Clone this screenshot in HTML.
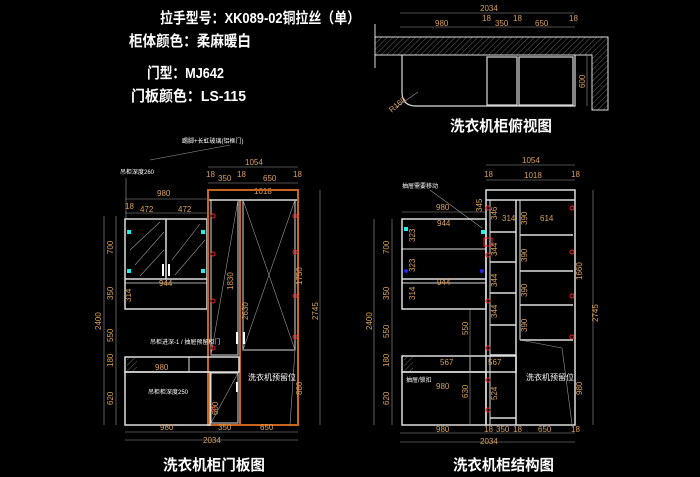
<!DOCTYPE html>
<html><head><meta charset="utf-8"><style>
html,body{margin:0;padding:0;background:#000;}
svg{display:block}
text{font-family:"Liberation Sans","Noto Sans CJK SC",sans-serif;}
.t{fill:#fff;font-weight:bold;font-size:15px}
.d{fill:#d9a05b;font-size:8px}
.w{stroke:#ddd;stroke-width:1.5;fill:none}
.g{stroke:#999;stroke-width:0.6;fill:none}
.o{stroke:#c8641e;stroke-width:2;fill:none}
</style></head><body>
<svg width="700" height="477" viewBox="0 0 700 477" xmlns="http://www.w3.org/2000/svg">
<defs><pattern id="h" width="4" height="4" patternUnits="userSpaceOnUse" patternTransform="rotate(45)"><line x1="0" y1="0" x2="0" y2="4" stroke="#aaa" stroke-width="0.6"/></pattern></defs>
<rect width="700" height="477" fill="#000"/>
<!-- header text -->
<text class="t" x="160" y="23" textLength="200" lengthAdjust="spacingAndGlyphs">拉手型号：XK089-02铜拉丝（单）</text>
<text class="t" x="129" y="46" textLength="122" lengthAdjust="spacingAndGlyphs">柜体颜色：柔麻暖白</text>
<text class="t" x="147" y="78" textLength="77" lengthAdjust="spacingAndGlyphs">门型：MJ642</text>
<text class="t" x="131" y="101" textLength="115" lengthAdjust="spacingAndGlyphs">门板颜色：LS-115</text>

<!-- top view -->
<g>
<line class="g" x1="400" y1="13" x2="575" y2="13"/><text class="d" x="480" y="11">2034</text>
<line class="g" x1="400" y1="27" x2="575" y2="27"/>
<text class="d" x="435" y="26">980</text><text class="d" x="482" y="21">18</text><text class="d" x="495" y="26">350</text><text class="d" x="513" y="21">18</text><text class="d" x="535" y="26">650</text><text class="d" x="569" y="21">18</text>
<path d="M375 37 H608 V110 H592 V55 H375 Z" fill="url(#h)" stroke="#ddd" stroke-width="1"/>
<line class="w" x1="375" y1="24" x2="375" y2="68" style="stroke-width:1"/>
<path class="w" d="M402 55 V92 Q402 106 416 106 H575 V55" style="stroke-width:1.2"/>
<rect class="w" x="487" y="57" width="30" height="48" style="stroke-width:1.2"/>
<rect class="w" x="519" y="57" width="54" height="48" style="stroke-width:1.2"/>
<line class="g" x1="587" y1="55" x2="587" y2="106"/><text class="d" x="0" y="0" transform="translate(585,88) rotate(-90)">600</text>
<line class="g" x1="395" y1="108" x2="418" y2="92"/><text class="d" x="390" y="112" transform="rotate(-40 392 110)">R160</text>
<text class="t" x="450" y="131" font-size="16" textLength="102" lengthAdjust="spacingAndGlyphs">洗衣机柜俯视图</text>
</g>

<!-- left door view -->
<g>
<line class="g" x1="150" y1="160" x2="230" y2="145"/>
<text class="d" x="182" y="143" fill="#fff" style="fill:#fff;font-size:6px">踢脚+长虹玻璃(铝框门)</text>
<text x="120" y="174" style="fill:#fff;font-size:6px">吊柜深度260</text>
<line class="g" x1="126" y1="178" x2="126" y2="219"/>
<line class="g" x1="208" y1="167" x2="298" y2="167"/><text class="d" x="245" y="165">1054</text>
<text class="d" x="206" y="177">18</text><text class="d" x="218" y="181">350</text><text class="d" x="237" y="177">18</text><text class="d" x="263" y="181">650</text><text class="d" x="293" y="177">18</text>
<line class="g" x1="208" y1="183" x2="298" y2="183"/>
<line class="g" x1="125" y1="199" x2="208" y2="199"/><text class="d" x="157" y="196">980</text>
<text class="d" x="254" y="194">1018</text>
<line class="g" x1="125" y1="213" x2="208" y2="213"/><text class="d" x="125" y="209">18</text><text class="d" x="140" y="212">472</text><text class="d" x="178" y="212">472</text>
<!-- upper cabinet -->
<rect class="w" x="125" y="219" width="82" height="90"/>
<line class="w" x1="166" y1="219" x2="166" y2="279"/>
<line class="w" x1="125" y1="279" x2="207" y2="279"/>
<line class="w" x1="125" y1="283" x2="207" y2="283" style="stroke-width:0.8"/>
<g class="g"><line x1="130" y1="250" x2="160" y2="222"/><line x1="135" y1="265" x2="164" y2="232"/><line x1="140" y1="276" x2="164" y2="250"/><line x1="172" y1="260" x2="200" y2="224"/><line x1="175" y1="275" x2="205" y2="240"/></g>
<line x1="163" y1="264" x2="163" y2="276" stroke="#fff" stroke-width="2"/><line x1="169" y1="264" x2="169" y2="276" stroke="#fff" stroke-width="2"/>
<g fill="#2ee"><rect x="127" y="230" width="4" height="4"/><rect x="201" y="230" width="4" height="4"/><rect x="127" y="269" width="4" height="4"/><rect x="201" y="269" width="4" height="4"/></g>
<text class="d" x="159" y="286">944</text>
<text class="d" transform="translate(131,302) rotate(-90)">314</text>
<!-- tall -->
<rect class="o" x="208" y="190" width="90" height="235"/>
<line class="o" x1="240" y1="200" x2="240" y2="425"/>
<line class="w" x1="209" y1="200" x2="297" y2="200"/>
<rect class="w" x="211" y="200" width="27" height="155" style="stroke-width:1"/>
<rect class="w" x="243" y="200" width="52" height="150" style="stroke-width:1"/>
<g class="g"><line x1="211" y1="355" x2="238" y2="200"/><line x1="243" y1="200" x2="295" y2="350"/><line x1="243" y1="350" x2="295" y2="200"/><line x1="211" y1="423" x2="238" y2="373"/><line x1="295" y1="350" x2="290" y2="425"/></g>
<rect x="236" y="332" width="2" height="12" fill="#fff"/><rect x="243" y="332" width="2" height="12" fill="#fff"/><rect x="236" y="382" width="2" height="10" fill="#fff"/>
<g fill="none" stroke="#e22" stroke-width="1"><circle cx="213" cy="216" r="2"/><circle cx="213" cy="254" r="2"/><circle cx="213" cy="301" r="2"/><circle cx="213" cy="348" r="2"/><circle cx="213" cy="409" r="2"/><circle cx="295" cy="216" r="2"/><circle cx="295" cy="252" r="2"/><circle cx="295" cy="296" r="2"/><circle cx="295" cy="337" r="2"/></g>
<text class="d" transform="translate(233,290) rotate(-90)">1830</text>
<text class="d" transform="translate(248,320) rotate(-90)">2630</text>
<text class="d" transform="translate(302,285) rotate(-90)">1750</text>
<text class="d" transform="translate(302,395) rotate(-90)">880</text>
<text style="fill:#fff;font-size:8px" x="248" y="380">洗衣机预留位</text>
<!-- low -->
<rect class="w" x="125" y="357" width="114" height="15"/>
<rect x="127" y="358" width="10" height="13" fill="url(#h)"/>
<line class="w" x1="189" y1="357" x2="189" y2="372" style="stroke-width:1"/>
<rect class="w" x="125" y="372" width="85" height="53"/>
<rect class="w" x="211" y="373" width="27" height="50" style="stroke-width:1"/>
<text style="fill:#fff;font-size:6px" x="150" y="344">吊柜进深-1 / 抽屉预留柜门</text>
<text style="fill:#fff;font-size:6px" x="148" y="394">吊柜柜深度250</text>
<text class="d" x="155" y="370">980</text>
<text class="d" transform="translate(218,415) rotate(-90)">600</text>
<!-- left dims -->
<line class="g" x1="104" y1="216" x2="104" y2="425"/><line class="g" x1="116" y1="216" x2="116" y2="425"/>
<text class="d" transform="translate(113,254) rotate(-90)">700</text>
<text class="d" transform="translate(113,300) rotate(-90)">350</text>
<text class="d" transform="translate(113,342) rotate(-90)">550</text>
<text class="d" transform="translate(113,367) rotate(-90)">180</text>
<text class="d" transform="translate(113,405) rotate(-90)">620</text>
<text class="d" transform="translate(101,330) rotate(-90)">2400</text>
<line class="g" x1="320" y1="190" x2="320" y2="425"/><text class="d" transform="translate(318,320) rotate(-90)">2745</text>
<line class="g" x1="125" y1="432" x2="298" y2="432"/><text class="d" x="160" y="430">980</text><text class="d" x="218" y="430">350</text><text class="d" x="260" y="430">650</text>
<line class="g" x1="125" y1="440" x2="298" y2="440"/><text class="d" x="203" y="443">2034</text>
<text class="t" x="163" y="470" font-size="16" textLength="102" lengthAdjust="spacingAndGlyphs">洗衣机柜门板图</text>
</g>

<!-- right structure view -->
<g>
<text x="402" y="188" style="fill:#fff;font-size:6px">抽屉需要移动</text>
<line class="g" x1="430" y1="190" x2="482" y2="228"/>
<line class="g" x1="486" y1="165" x2="575" y2="165"/><text class="d" x="522" y="163">1054</text>
<line class="g" x1="486" y1="180" x2="575" y2="180"/><text class="d" x="524" y="178">1018</text>
<text class="d" x="484" y="177">18</text><text class="d" x="571" y="177">18</text>
<line class="g" x1="402" y1="212" x2="486" y2="212"/><text class="d" x="436" y="210">980</text>
<rect class="w" x="486" y="190" width="89" height="235"/>
<line class="w" x1="486" y1="200" x2="575" y2="200"/>
<line class="w" x1="490" y1="200" x2="490" y2="425" style="stroke-width:1"/>
<line class="w" x1="516" y1="200" x2="516" y2="425"/>
<line class="w" x1="520" y1="200" x2="520" y2="340" style="stroke-width:1"/>
<g class="w"><line x1="490" y1="232" x2="516" y2="232"/><line x1="490" y1="262" x2="516" y2="262"/><line x1="490" y1="293" x2="516" y2="293"/><line x1="490" y1="325" x2="516" y2="325"/><line x1="490" y1="355" x2="516" y2="355"/><line x1="490" y1="418" x2="516" y2="418"/>
<line x1="520" y1="235" x2="573" y2="235"/><line x1="520" y1="271" x2="573" y2="271"/><line x1="520" y1="305" x2="573" y2="305"/><line x1="520" y1="340" x2="573" y2="340"/></g>
<line class="g" x1="520" y1="340" x2="562" y2="348"/><line class="g" x1="562" y1="348" x2="572" y2="424"/>
<rect class="w" x="402" y="219" width="84" height="90"/>
<line class="w" x1="402" y1="249" x2="486" y2="249" style="stroke-width:1"/>
<line class="w" x1="402" y1="279" x2="486" y2="279"/>
<line class="w" x1="402" y1="283" x2="486" y2="283" style="stroke-width:1"/>
<text class="d" x="437" y="226">944</text><text class="d" x="437" y="285">944</text>
<text class="d" transform="translate(415,242) rotate(-90)">323</text>
<text class="d" transform="translate(415,272) rotate(-90)">323</text>
<text class="d" transform="translate(415,300) rotate(-90)">314</text>
<rect class="w" x="402" y="356" width="114" height="16"/>
<rect x="404" y="357" width="9" height="14" fill="url(#h)"/>
<line class="w" x1="470" y1="356" x2="470" y2="372" style="stroke-width:1"/>
<rect class="w" x="402" y="372" width="84" height="53"/>
<text class="d" x="440" y="365">567</text><text class="d" x="488" y="365">567</text>
<text class="d" x="436" y="389">980</text>
<text style="fill:#fff;font-size:6px" x="406" y="382">抽屉/锁扣</text>
<text style="fill:#fff;font-size:8px" x="526" y="380">洗衣机预留位</text>
<g fill="none" stroke="#e22" stroke-width="1"><circle cx="488" cy="208" r="2"/><circle cx="488" cy="255" r="2"/><circle cx="488" cy="301" r="2"/><circle cx="488" cy="348" r="2"/><circle cx="488" cy="380" r="2"/><circle cx="488" cy="410" r="2"/><circle cx="572" cy="208" r="2"/><circle cx="572" cy="252" r="2"/><circle cx="572" cy="296" r="2"/><circle cx="572" cy="337" r="2"/></g>
<rect x="484" y="238" width="8" height="8" fill="none" stroke="#e22"/>
<g fill="#2ee"><rect x="404" y="227" width="4" height="4"/><rect x="481" y="230" width="4" height="4"/></g>
<g fill="#22e"><circle cx="406" cy="271" r="2"/><circle cx="482" cy="271" r="2"/></g>
<text class="d" transform="translate(497,220) rotate(-90)">346</text>
<text class="d" transform="translate(497,256) rotate(-90)">344</text>
<text class="d" transform="translate(497,287) rotate(-90)">344</text>
<text class="d" transform="translate(497,318) rotate(-90)">344</text>
<text class="d" transform="translate(497,400) rotate(-90)">524</text>
<text class="d" transform="translate(527,225) rotate(-90)">390</text>
<text class="d" transform="translate(527,262) rotate(-90)">390</text>
<text class="d" transform="translate(527,297) rotate(-90)">390</text>
<text class="d" transform="translate(527,332) rotate(-90)">390</text>
<text class="d" x="540" y="221">614</text><text class="d" x="502" y="221">314</text>
<text class="d" transform="translate(582,280) rotate(-90)">1660</text>
<text class="d" transform="translate(582,395) rotate(-90)">980</text>
<text class="d" transform="translate(482,212) rotate(-90)">345</text>
<line class="g" x1="470" y1="310" x2="470" y2="425"/>
<text class="d" transform="translate(468,335) rotate(-90)">550</text>
<text class="d" transform="translate(468,398) rotate(-90)">630</text>
<line class="g" x1="374" y1="219" x2="374" y2="425"/><line class="g" x1="392" y1="219" x2="392" y2="425"/>
<text class="d" transform="translate(389,254) rotate(-90)">700</text>
<text class="d" transform="translate(389,300) rotate(-90)">350</text>
<text class="d" transform="translate(389,338) rotate(-90)">550</text>
<text class="d" transform="translate(389,367) rotate(-90)">180</text>
<text class="d" transform="translate(389,405) rotate(-90)">620</text>
<text class="d" transform="translate(372,330) rotate(-90)">2400</text>
<line class="g" x1="593" y1="190" x2="593" y2="425"/><text class="d" transform="translate(598,322) rotate(-90)">2745</text>
<line class="g" x1="400" y1="433" x2="575" y2="433"/><text class="d" x="436" y="432">980</text><text class="d" x="484" y="432">18</text><text class="d" x="496" y="432">350</text><text class="d" x="513" y="432">18</text><text class="d" x="538" y="432">650</text><text class="d" x="571" y="432">18</text>
<line class="g" x1="400" y1="442" x2="575" y2="442"/><text class="d" x="480" y="444">2034</text>
<text class="t" x="453" y="470" font-size="16" textLength="101" lengthAdjust="spacingAndGlyphs">洗衣机柜结构图</text>
</g>
</svg>
</body></html>
